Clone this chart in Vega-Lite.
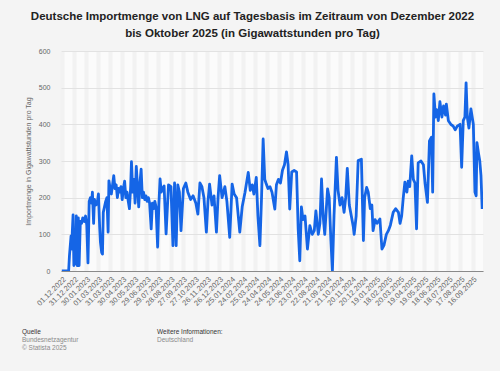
{
  "$schema": "https://vega.github.io/schema/vega-lite/v6.json",
  "background": "#f4f4f4",
  "padding": {"left": 22, "right": 20, "top": 10, "bottom": 20},
  "title": {
    "text": ["Deutsche Importmenge von LNG auf Tagesbasis im Zeitraum von Dezember 2022", "bis Oktober 2025 (in Gigawattstunden pro Tag)"],
    "font": "Liberation Sans", "fontSize": 11.5, "fontWeight": "bold", "color": "#222222",
    "anchor": "middle", "lineHeight": 17, "offset": 8
  },
  "spacing": 22,
  "config": {"view": {"stroke": null}},
  "vconcat": [
    {
      "width": 422,
      "height": 220,
      "view": {"fill": "#fbfbfb", "stroke": null},
      "data": {"values": [
        {"date":"2022-12-01","value":0},{"date":"2022-12-18","value":0},{"date":"2022-12-20","value":42},{"date":"2022-12-24","value":96},
        {"date":"2022-12-26","value":60},{"date":"2022-12-27","value":105},{"date":"2022-12-29","value":153},{"date":"2022-12-31","value":15},
        {"date":"2023-01-02","value":110},{"date":"2023-01-04","value":20},{"date":"2023-01-06","value":150},{"date":"2023-01-08","value":15},
        {"date":"2023-01-11","value":145},{"date":"2023-01-13","value":15},{"date":"2023-01-16","value":135},{"date":"2023-01-19","value":130},
        {"date":"2023-01-22","value":145},{"date":"2023-01-26","value":135},{"date":"2023-01-29","value":150},{"date":"2023-02-01","value":125},
        {"date":"2023-02-04","value":22},{"date":"2023-02-07","value":190},{"date":"2023-02-10","value":200},{"date":"2023-02-13","value":185},
        {"date":"2023-02-15","value":215},{"date":"2023-02-18","value":130},{"date":"2023-02-20","value":195},{"date":"2023-02-24","value":180},
        {"date":"2023-02-27","value":185},{"date":"2023-03-02","value":210},{"date":"2023-03-05","value":120},{"date":"2023-03-07","value":78},
        {"date":"2023-03-10","value":50},{"date":"2023-03-12","value":46},{"date":"2023-03-14","value":160},{"date":"2023-03-17","value":175},
        {"date":"2023-03-20","value":190},{"date":"2023-03-23","value":200},{"date":"2023-03-26","value":106},{"date":"2023-03-28","value":246},
        {"date":"2023-03-31","value":225},{"date":"2023-04-03","value":210},{"date":"2023-04-06","value":235},{"date":"2023-04-09","value":260},
        {"date":"2023-04-12","value":225},{"date":"2023-04-15","value":235},{"date":"2023-04-18","value":200},{"date":"2023-04-21","value":225},
        {"date":"2023-04-24","value":215},{"date":"2023-04-27","value":230},{"date":"2023-04-30","value":195},{"date":"2023-05-03","value":225},
        {"date":"2023-05-06","value":245},{"date":"2023-05-09","value":200},{"date":"2023-05-12","value":215},{"date":"2023-05-15","value":190},
        {"date":"2023-05-18","value":170},{"date":"2023-05-21","value":230},{"date":"2023-05-23","value":298},{"date":"2023-05-26","value":215},
        {"date":"2023-05-29","value":250},{"date":"2023-06-01","value":185},{"date":"2023-06-04","value":285},{"date":"2023-06-07","value":230},
        {"date":"2023-06-10","value":175},{"date":"2023-06-13","value":240},{"date":"2023-06-16","value":278},{"date":"2023-06-19","value":200},
        {"date":"2023-06-22","value":215},{"date":"2023-06-25","value":195},{"date":"2023-06-28","value":205},{"date":"2023-07-01","value":190},
        {"date":"2023-07-04","value":200},{"date":"2023-07-07","value":185},{"date":"2023-07-11","value":115},{"date":"2023-07-14","value":185},
        {"date":"2023-07-17","value":170},{"date":"2023-07-20","value":190},{"date":"2023-07-23","value":175},{"date":"2023-07-27","value":65},
        {"date":"2023-07-30","value":180},{"date":"2023-08-02","value":251},{"date":"2023-08-05","value":215},{"date":"2023-08-08","value":225},
        {"date":"2023-08-12","value":232},{"date":"2023-08-17","value":101},{"date":"2023-08-23","value":235},{"date":"2023-08-29","value":230},
        {"date":"2023-09-03","value":69},{"date":"2023-09-07","value":240},{"date":"2023-09-11","value":69},{"date":"2023-09-15","value":235},
        {"date":"2023-09-19","value":215},{"date":"2023-09-23","value":110},{"date":"2023-09-29","value":225},{"date":"2023-10-05","value":240},
        {"date":"2023-10-10","value":215},{"date":"2023-10-17","value":195},{"date":"2023-10-23","value":205},{"date":"2023-10-30","value":185},
        {"date":"2023-11-04","value":155},{"date":"2023-11-09","value":240},{"date":"2023-11-14","value":230},{"date":"2023-11-19","value":200},
        {"date":"2023-11-25","value":106},{"date":"2023-11-29","value":190},{"date":"2023-12-03","value":237},{"date":"2023-12-09","value":180},
        {"date":"2023-12-14","value":205},{"date":"2023-12-20","value":106},{"date":"2023-12-24","value":200},{"date":"2023-12-28","value":260},
        {"date":"2024-01-03","value":200},{"date":"2024-01-10","value":230},{"date":"2024-01-15","value":190},{"date":"2024-01-22","value":92},
        {"date":"2024-01-28","value":237},{"date":"2024-02-02","value":210},{"date":"2024-02-08","value":200},{"date":"2024-02-16","value":106},
        {"date":"2024-02-22","value":175},{"date":"2024-02-29","value":215},{"date":"2024-03-08","value":269},{"date":"2024-03-13","value":220},
        {"date":"2024-03-18","value":235},{"date":"2024-03-22","value":210},{"date":"2024-03-28","value":255},{"date":"2024-04-01","value":150},
        {"date":"2024-04-06","value":69},{"date":"2024-04-10","value":200},{"date":"2024-04-14","value":360},{"date":"2024-04-18","value":250},
        {"date":"2024-04-21","value":240},{"date":"2024-04-26","value":225},{"date":"2024-05-01","value":230},{"date":"2024-05-06","value":215},
        {"date":"2024-05-13","value":169},{"date":"2024-05-17","value":235},{"date":"2024-05-22","value":250},{"date":"2024-05-27","value":240},
        {"date":"2024-06-01","value":275},{"date":"2024-06-06","value":290},{"date":"2024-06-11","value":325},{"date":"2024-06-15","value":290},
        {"date":"2024-06-19","value":169},{"date":"2024-06-24","value":270},{"date":"2024-06-30","value":274},{"date":"2024-07-06","value":270},
        {"date":"2024-07-10","value":115},{"date":"2024-07-14","value":28},{"date":"2024-07-18","value":175},{"date":"2024-07-22","value":140},
        {"date":"2024-07-27","value":150},{"date":"2024-08-02","value":60},{"date":"2024-08-08","value":124},{"date":"2024-08-14","value":100},
        {"date":"2024-08-19","value":110},{"date":"2024-08-23","value":164},{"date":"2024-08-29","value":100},{"date":"2024-09-02","value":130},
        {"date":"2024-09-06","value":251},{"date":"2024-09-10","value":150},{"date":"2024-09-14","value":100},{"date":"2024-09-21","value":224},
        {"date":"2024-09-25","value":200},{"date":"2024-09-29","value":90},{"date":"2024-10-03","value":0},{"date":"2024-10-07","value":150},
        {"date":"2024-10-13","value":310},{"date":"2024-10-17","value":220},{"date":"2024-10-22","value":180},{"date":"2024-10-27","value":200},
        {"date":"2024-11-01","value":160},{"date":"2024-11-05","value":200},{"date":"2024-11-09","value":280},{"date":"2024-11-14","value":180},
        {"date":"2024-11-19","value":150},{"date":"2024-11-24","value":120},{"date":"2024-11-26","value":100},{"date":"2024-12-01","value":150},
        {"date":"2024-12-06","value":301},{"date":"2024-12-14","value":305},{"date":"2024-12-19","value":83},{"date":"2024-12-22","value":200},
        {"date":"2024-12-27","value":228},{"date":"2024-12-31","value":215},{"date":"2025-01-05","value":170},{"date":"2025-01-09","value":180},
        {"date":"2025-01-12","value":110},{"date":"2025-01-17","value":140},{"date":"2025-01-22","value":130},{"date":"2025-01-29","value":142},
        {"date":"2025-02-03","value":60},{"date":"2025-02-08","value":70},{"date":"2025-02-14","value":100},{"date":"2025-02-19","value":110},
        {"date":"2025-02-24","value":125},{"date":"2025-03-03","value":160},{"date":"2025-03-09","value":170},{"date":"2025-03-16","value":160},
        {"date":"2025-03-20","value":130},{"date":"2025-03-24","value":150},{"date":"2025-03-28","value":200},{"date":"2025-04-01","value":242},
        {"date":"2025-04-06","value":215},{"date":"2025-04-09","value":245},{"date":"2025-04-13","value":230},{"date":"2025-04-18","value":314},
        {"date":"2025-04-22","value":250},{"date":"2025-04-26","value":240},{"date":"2025-04-30","value":115},{"date":"2025-05-04","value":295},
        {"date":"2025-05-11","value":300},{"date":"2025-05-17","value":290},{"date":"2025-05-21","value":240},{"date":"2025-05-27","value":187},
        {"date":"2025-06-01","value":355},{"date":"2025-06-06","value":365},{"date":"2025-06-09","value":215},{"date":"2025-06-12","value":483},
        {"date":"2025-06-16","value":420},{"date":"2025-06-19","value":440},{"date":"2025-06-23","value":410},{"date":"2025-06-27","value":462},
        {"date":"2025-07-02","value":420},{"date":"2025-07-06","value":450},{"date":"2025-07-11","value":425},{"date":"2025-07-13","value":455},
        {"date":"2025-07-18","value":410},{"date":"2025-07-24","value":400},{"date":"2025-07-30","value":395},{"date":"2025-08-04","value":385},
        {"date":"2025-08-09","value":395},{"date":"2025-08-16","value":400},{"date":"2025-08-20","value":283},{"date":"2025-08-24","value":410},
        {"date":"2025-08-28","value":420},{"date":"2025-08-31","value":513},{"date":"2025-09-03","value":420},{"date":"2025-09-07","value":390},
        {"date":"2025-09-12","value":442},{"date":"2025-09-18","value":400},{"date":"2025-09-22","value":215},{"date":"2025-09-25","value":205},
        {"date":"2025-09-27","value":350},{"date":"2025-10-01","value":320},{"date":"2025-10-04","value":300},{"date":"2025-10-07","value":260},
        {"date":"2025-10-10","value":169}
      ]},
      "mark": {"type": "line", "color": "#1565e6", "strokeWidth": 2.8, "strokeJoin": "round", "clip": true},
      "encoding": {
        "x": {
          "field": "date", "type": "temporal",
          "scale": {"type": "utc", "domain": [{"year": 2022, "month": 11, "date": 29, "utc": true}, {"year": 2025, "month": 10, "date": 12, "utc": true}]},
          "axis": {
            "title": null, "format": "%d.%m.%Y", "labelAngle": -45, "labelFont": "Liberation Sans", "labelFontSize": 7.5,
            "labelColor": "#666666", "labelPadding": 4, "ticks": false, "domainColor": "#8a8a8a", "domainWidth": 1,
            "grid": true, "gridColor": "#f2f2f2", "gridWidth": 4, "labelOverlap": false, "labelBound": false,
            "values": [
              {"year":2022,"month":12,"date":1,"utc":true},{"year":2022,"month":12,"date":31,"utc":true},{"year":2023,"month":1,"date":30,"utc":true},
              {"year":2023,"month":3,"date":1,"utc":true},{"year":2023,"month":3,"date":31,"utc":true},{"year":2023,"month":4,"date":30,"utc":true},
              {"year":2023,"month":5,"date":30,"utc":true},{"year":2023,"month":6,"date":29,"utc":true},{"year":2023,"month":7,"date":29,"utc":true},
              {"year":2023,"month":8,"date":28,"utc":true},{"year":2023,"month":9,"date":27,"utc":true},{"year":2023,"month":10,"date":27,"utc":true},
              {"year":2023,"month":11,"date":26,"utc":true},{"year":2023,"month":12,"date":26,"utc":true},{"year":2024,"month":1,"date":25,"utc":true},
              {"year":2024,"month":2,"date":24,"utc":true},{"year":2024,"month":3,"date":25,"utc":true},{"year":2024,"month":4,"date":24,"utc":true},
              {"year":2024,"month":5,"date":24,"utc":true},{"year":2024,"month":6,"date":23,"utc":true},{"year":2024,"month":7,"date":23,"utc":true},
              {"year":2024,"month":8,"date":22,"utc":true},{"year":2024,"month":9,"date":21,"utc":true},{"year":2024,"month":10,"date":21,"utc":true},
              {"year":2024,"month":11,"date":20,"utc":true},{"year":2024,"month":12,"date":20,"utc":true},{"year":2025,"month":1,"date":19,"utc":true},
              {"year":2025,"month":2,"date":18,"utc":true},{"year":2025,"month":3,"date":20,"utc":true},{"year":2025,"month":4,"date":19,"utc":true},
              {"year":2025,"month":5,"date":19,"utc":true},{"year":2025,"month":6,"date":18,"utc":true},{"year":2025,"month":7,"date":18,"utc":true},
              {"year":2025,"month":8,"date":17,"utc":true},{"year":2025,"month":9,"date":16,"utc":true}
            ]
          }
        },
        "y": {
          "field": "value", "type": "quantitative",
          "scale": {"domain": [0, 600], "nice": false},
          "axis": {
            "title": "Importmenge in Gigawattstunden pro Tag", "titleFont": "Liberation Sans", "titleFontSize": 7,
            "titleFontWeight": "normal", "titleColor": "#666666", "titlePadding": 7,
            "labelFont": "Liberation Sans", "labelFontSize": 7, "labelColor": "#666666", "labelPadding": 11,
            "ticks": false, "domain": false, "values": [0, 100, 200, 300, 400, 500, 600],
            "gridColor": "#e2e2e2", "gridWidth": 1
          }
        }
      }
    },
    {
      "width": 135,
      "height": 16,
      "data": {"values": [
        {"block": "A", "row": 0, "text": "Quelle", "kind": "head"},
        {"block": "A", "row": 1, "text": "Bundesnetzagentur", "kind": "body"},
        {"block": "A", "row": 2, "text": "© Statista 2025", "kind": "body"},
        {"block": "B", "row": 0, "text": "Weitere Informationen:", "kind": "head"},
        {"block": "B", "row": 1, "text": "Deutschland", "kind": "body"}
      ]},
      "mark": {"type": "text", "align": "left", "baseline": "middle", "font": "Liberation Sans", "fontSize": 6.5, "dx": -39},
      "encoding": {
        "x": {"field": "block", "type": "nominal", "axis": null, "scale": {"type": "point", "padding": 0}},
        "y": {"field": "row", "type": "ordinal", "axis": null, "scale": {"type": "point", "padding": 0}},
        "text": {"field": "text"},
        "color": {"field": "kind", "type": "nominal", "legend": null, "scale": {"domain": ["head", "body"], "range": ["#333333", "#8a8a8a"]}}
      }
    }
  ]
}
